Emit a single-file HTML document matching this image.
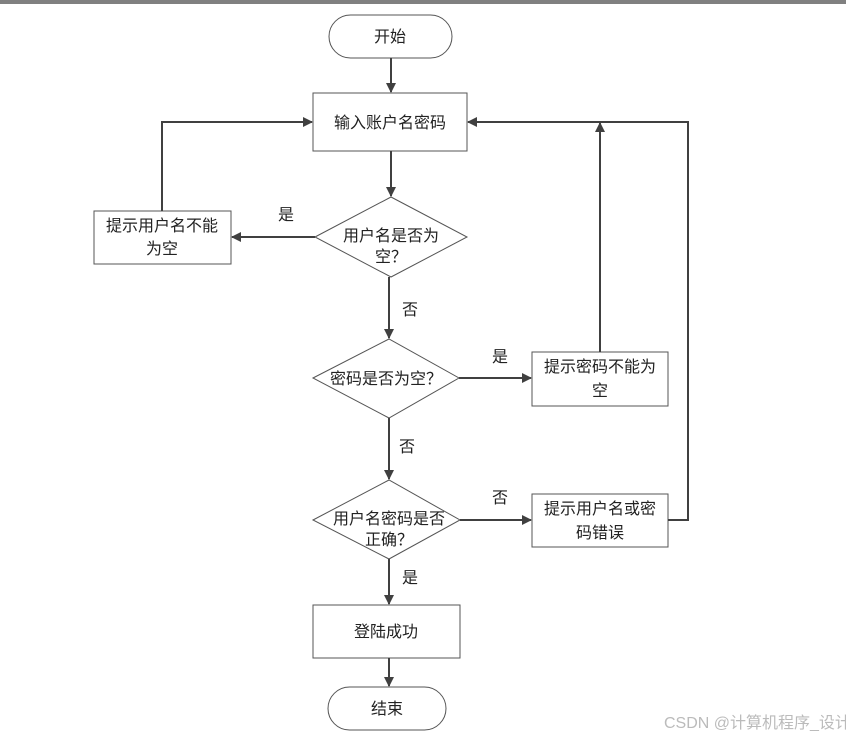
<!DOCTYPE html>
<html><head><meta charset="utf-8"><style>
body{margin:0;background:#fff;width:846px;height:740px;overflow:hidden}
text{font-family:"Liberation Sans","Noto Sans CJK SC",sans-serif;font-size:16px;fill:#222}
</style></head><body>
<svg width="846" height="740" xmlns="http://www.w3.org/2000/svg">
<defs><marker id="a" markerWidth="10" markerHeight="10" refX="9" refY="5" orient="auto" markerUnits="userSpaceOnUse"><path d="M0,0 L10,5 L0,10 z" fill="#404040"/></marker></defs>
<rect x="0" y="0" width="846" height="4" fill="#808080"/>
<g fill="#fff" stroke="#555" stroke-width="1">
<rect x="329" y="15" width="123" height="43" rx="21.5"/>
<rect x="313" y="93" width="154" height="58"/>
<polygon points="315,237 391,197 467,237 391,277"/>
<rect x="94" y="211" width="137" height="53"/>
<polygon points="313,378 389,339 459,378 389,418"/>
<rect x="532" y="352" width="136" height="54"/>
<polygon points="313,520 389,480 460,520 389,559"/>
<rect x="532" y="494" width="136" height="53"/>
<rect x="313" y="605" width="147" height="53"/>
<rect x="328" y="687" width="118" height="43" rx="21.5"/>
</g>
<g stroke="#404040" stroke-width="2" fill="none" marker-end="url(#a)">
<line x1="391" y1="58" x2="391" y2="92"/>
<line x1="391" y1="151" x2="391" y2="196"/>
<line x1="315" y1="237" x2="232" y2="237"/>
<polyline points="162,211 162,122 312,122"/>
<line x1="389" y1="277" x2="389" y2="338"/>
<line x1="459" y1="378" x2="531" y2="378"/>
<line x1="600" y1="352" x2="600" y2="123"/>
<line x1="389" y1="418" x2="389" y2="479"/>
<line x1="460" y1="520" x2="531" y2="520"/>
<polyline points="668,520 688,520 688,122 468,122"/>
<line x1="389" y1="559" x2="389" y2="604"/>
<line x1="389" y1="658" x2="389" y2="686"/>
</g>
<g text-anchor="middle">
<text x="390" y="42">开始</text>
<text x="390" y="128">输入账户名密码</text>
<text x="391" y="241" font-size="15">用户名是否为</text>
<text x="391" y="262" font-size="15">空？</text>
<text x="162" y="231">提示用户名不能</text>
<text x="162" y="254">为空</text>
<text x="386" y="384" font-size="15">密码是否为空？</text>
<text x="600" y="372">提示密码不能为</text>
<text x="600" y="396">空</text>
<text x="389" y="524" font-size="15">用户名密码是否</text>
<text x="389" y="545" font-size="15">正确？</text>
<text x="600" y="514">提示用户名或密</text>
<text x="600" y="538">码错误</text>
<text x="386" y="637">登陆成功</text>
<text x="387" y="714">结束</text>
<text x="286" y="220">是</text>
<text x="410" y="315">否</text>
<text x="500" y="362">是</text>
<text x="407" y="452">否</text>
<text x="500" y="503">否</text>
<text x="410" y="583">是</text>
</g>
<text x="664" y="728" font-size="14" style="fill:#bbb">CSDN @计算机程序_设计</text>
</svg>
</body></html>
